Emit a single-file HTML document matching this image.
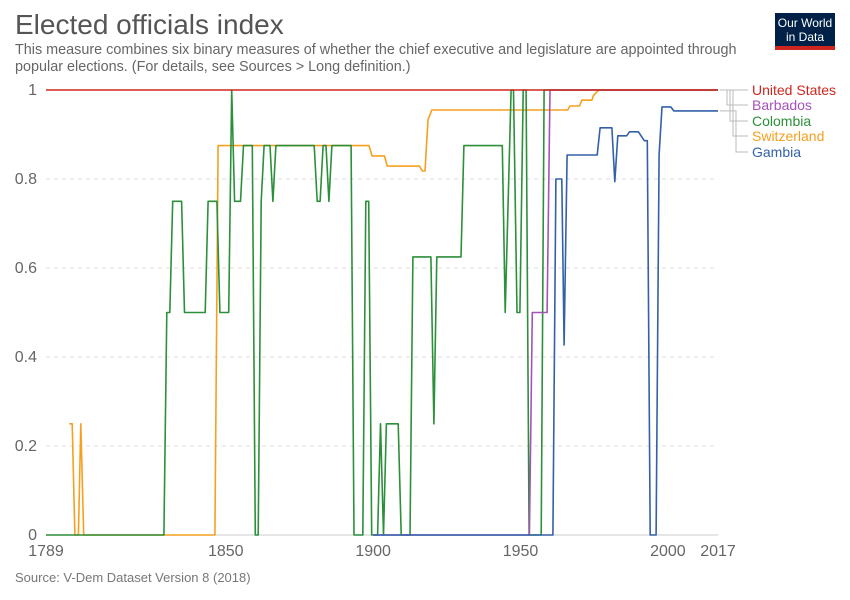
<!DOCTYPE html>
<html><head><meta charset="utf-8"><style>
body{margin:0;background:#fff;font-family:"Liberation Sans",sans-serif;}
#wrap{position:relative;width:850px;height:600px;overflow:hidden}
</style></head><body>
<div id="wrap">
<svg id="chart" width="850" height="600" xmlns="http://www.w3.org/2000/svg">
<text x="15" y="34" font-size="28" fill="#555">Elected officials index</text>
<text x="15" y="54" font-size="14.4" fill="#666">This measure combines six binary measures of whether the chief executive and legislature are appointed through</text>
<text x="15" y="71" font-size="14.4" fill="#666">popular elections. (For details, see Sources &gt; Long definition.)</text>
<g>
<rect x="775" y="13" width="60" height="37" fill="#002147"/>
<rect x="775" y="46" width="60" height="4" fill="#ce261e"/>
<text x="805" y="27" font-size="12" fill="#fff" text-anchor="middle">Our World</text>
<text x="805" y="41" font-size="12" fill="#fff" text-anchor="middle">in Data</text>
</g>
<g id="grid"></g><g id="series"></g><g id="labels"></g>
<text x="15" y="582" font-size="13" fill="#777">Source: V-Dem Dataset Version 8 (2018)</text>
</svg>
</div>
<script>
const countries=["United States","Barbados","Colombia","Switzerland","Gambia"];
const colors=["#ce261e","#a652ba","#2c8f3a","#f6a01f","#3360a9"];
const yTicks=[0,0.2,0.4,0.6,0.8,1];
const yTickLabels=["0","0.2","0.4","0.6","0.8","1"];
const xTicks=[1789,1850,1900,1950,2000,2017];
const usa=[[1789,1],[2017,1]];
const barbados=[[1900,0],[1953,0],[1954,0.5],[1959,0.5],[1960,1],[2017,1]];
const colombia=[[1789,0],[1829,0],[1830,0.5],[1831,0.5],[1832,0.75],[1835,0.75],[1836,0.5],[1843,0.5],[1844,0.75],[1847,0.75],[1848,0.5],[1851,0.5],[1852,1],[1853,0.75],[1855,0.75],[1856,0.875],[1859,0.875],[1860,0],[1861,0],[1862,0.75],[1863,0.875],[1865,0.875],[1866,0.75],[1867,0.875],[1880,0.875],[1881,0.75],[1882,0.75],[1883,0.875],[1884,0.875],[1885,0.75],[1886,0.875],[1892.5,0.875],[1893.5,0],[1896.5,0],[1897.5,0.75],[1898.5,0.75],[1899.5,0],[1901.5,0],[1902.5,0.25],[1903.5,0],[1904.5,0.25],[1908.5,0.25],[1909.5,0],[1912.5,0],[1913.5,0.625],[1919.6,0.625],[1920.6,0.25],[1921.6,0.625],[1929.8,0.625],[1930.8,0.875],[1943.8,0.875],[1944.8,0.5],[1946.8,1],[1947.6,1],[1948.8,0.5],[1949.8,0.5],[1950.9,1],[1951.9,1],[1952.9,0],[1957,0],[1958,1],[2017,1]];
const switzerland=[[1796.9,0.25],[1797.9,0.25],[1798.8,0],[1800,0],[1800.8,0.25],[1801.8,0],[1846.3,0],[1847.4,0.875],[1898.6,0.875],[1899.6,0.852],[1903.8,0.852],[1904.8,0.829],[1915.7,0.829],[1916.7,0.818],[1917.6,0.818],[1918.6,0.933],[1919.9,0.955],[1966,0.955],[1966.8,0.964],[1970,0.964],[1970.8,0.977],[1974.2,0.977],[1974.7,0.987],[1975.8,0.995],[1976.7,1],[2017,1]];
const gambia=[[1900,0],[1961,0],[1962,0.8],[1964,0.8],[1964.8,0.427],[1965.8,0.854],[1976,0.854],[1977,0.915],[1981,0.915],[1982,0.794],[1983,0.897],[1986,0.897],[1987,0.906],[1990,0.906],[1992,0.886],[1993,0.886],[1994,0],[1996,0],[1997,0.855],[1998,0.962],[2001,0.962],[2002,0.953],[2017,0.953]];
const seriesData=[usa,barbados,colombia,switzerland,gambia];
const labelY=[90,105,121,136,152];
const X0=46,X1=718,Y0=535,Y1=90;
function xs(y){return X0+(y-1789)/(2017-1789)*(X1-X0);}
function ys(v){return Y0-v*(Y0-Y1);}
const NS="http://www.w3.org/2000/svg";
const grid=document.getElementById('grid');
yTicks.forEach((t,i)=>{
  const l=document.createElementNS(NS,'line');
  l.setAttribute('x1',X0);l.setAttribute('x2',X1);l.setAttribute('y1',ys(t));l.setAttribute('y2',ys(t));
  l.setAttribute('stroke',t===0?'#ccc':'#ddd');
  if(t!==0)l.setAttribute('stroke-dasharray','4,4');
  
  
  grid.appendChild(l);
  const tx=document.createElementNS(NS,'text');
  tx.setAttribute('x',37);tx.setAttribute('y',ys(t)+5);tx.setAttribute('text-anchor','end');
  tx.setAttribute('font-size','16');tx.setAttribute('fill','#666');
  tx.textContent=yTickLabels[i];
  
  
  grid.appendChild(tx);
});
xTicks.forEach(t=>{
  const tx=document.createElementNS(NS,'text');
  tx.setAttribute('x',xs(t));tx.setAttribute('y',556);tx.setAttribute('text-anchor','middle');
  tx.setAttribute('font-size','16');tx.setAttribute('fill','#666');
  tx.textContent=t;
  
  
  grid.appendChild(tx);
});
const sg=document.getElementById('series');
[3,2,1,4,0].forEach(i=>{
  const p=document.createElementNS(NS,'polyline');
  p.setAttribute('points',seriesData[i].map(d=>xs(d[0]).toFixed(1)+','+ys(d[1]).toFixed(1)).join(' '));
  p.setAttribute('fill','none');p.setAttribute('stroke',colors[i]);p.setAttribute('stroke-width','1.6');
  p.setAttribute('stroke-linejoin','round');
  
  
  sg.appendChild(p);
});
const lg=document.getElementById('labels');
countries.forEach((c,i)=>{
  const last=seriesData[i][seriesData[i].length-1];
  const ey=ys(last[1]);
  const ex=724+i*3;
  const p=document.createElementNS(NS,'polyline');
  p.setAttribute('points',`${X1+2},${ey} ${ex},${ey} ${ex},${labelY[i]} 748,${labelY[i]}`);
  p.setAttribute('fill','none');p.setAttribute('stroke','#bbb');p.setAttribute('stroke-width','1');
  
  
  lg.appendChild(p);
  const t=document.createElementNS(NS,'text');
  t.setAttribute('x',752);t.setAttribute('y',labelY[i]+5);t.setAttribute('font-size','14');t.setAttribute('fill',colors[i]);
  t.textContent=c;
  
  
  lg.appendChild(t);
});
</script>
</body></html>
